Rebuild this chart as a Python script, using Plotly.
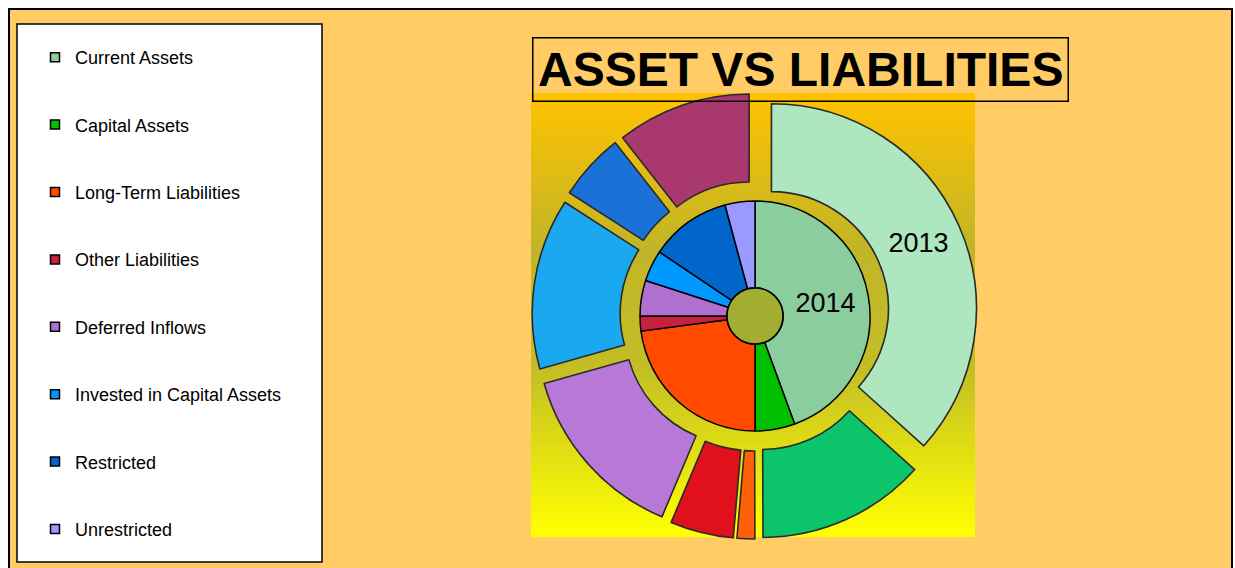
import numpy as np
import plotly.graph_objects as go

W, H = 1235, 568

# ---------------- data ----------------
categories = ["Current Assets", "Capital Assets", "Long-Term Liabilities", "Other Liabilities",
              "Deferred Inflows", "Invested in Capital Assets", "Restricted", "Unrestricted"]
values_2013 = [36.7, 13.3, 1.4, 5.0, 14.3, 13.5, 5.3, 10.6]
values_2014 = [44.4, 5.6, 22.9, 2.1, 5.0, 4.4, 11.4, 4.2]
series_names = ["2013", "2014"]

colors_2013 = ["#AEE6C0", "#0CC46A", "#FF600A", "#E0101C", "#B878D8", "#1AA8F0", "#1A72D8", "#A8386E"]
colors_2014 = ["#8CCD9E", "#00C000", "#FF4A00", "#C8203F", "#B070D0", "#0098FF", "#0066CC", "#9999FF"]

title_text = "ASSET VS LIABILITIES"


def px_x(x):
    """pixel x -> paper fraction"""
    return x / W


def px_y(y):
    """pixel y (from top) -> paper fraction"""
    return 1 - y / H


FONT = "Arial, Liberation Sans, sans-serif"

fig = go.Figure()

# ---------------- plot-area gradient (gold -> olive -> yellow) ----------------
n_grad = 80
t = np.linspace(0, 1, n_grad)
d = t[1] - t[0]
bg_scale = [[0.0, "#FFC200"], [0.35, "#C0B528"], [0.62, "#C3BE25"], [1.0, "#FFFF00"]]
fig.add_trace(go.Heatmap(
    x=[0, 1], y=t, z=[[v, v] for v in t],
    colorscale=bg_scale, zmin=0, zmax=1, zsmooth="best",
    showscale=False, hoverinfo="skip", xaxis="x", yaxis="y",
))

# ---------------- legend entries ----------------
for name, col in zip(categories, colors_2014):
    fig.add_trace(go.Scatter(
        x=[None], y=[None], mode="markers", name=name, legendgroup=name,
        marker=dict(symbol="square", size=9, color=col, line=dict(color="black", width=1.5)),
        xaxis="x", yaxis="y", hoverinfo="skip",
    ))

# ---------------- outer ring: 2013 ----------------
cx, cy = 755, 316
outer_half = 223
fig.add_trace(go.Pie(
    labels=categories, values=values_2013, name=series_names[0],
    sort=False, direction="clockwise", rotation=0,
    hole=0.571, pull=[0.0878] * len(categories),
    marker=dict(colors=colors_2013, line=dict(color="#2a2a2a", width=1.6)),
    text=[series_names[0]] + [""] * (len(categories) - 1),
    textinfo="text", textposition="inside", insidetextorientation="horizontal",
    textfont=dict(family=FONT, size=27, color="black"),
    domain=dict(x=[px_x(cx - outer_half), px_x(cx + outer_half)],
                y=[px_y(cy + outer_half), px_y(cy - outer_half)]),
    showlegend=False, hoverinfo="label+value+name",
))

# ---------------- inner pie: 2014 ----------------
inner_r = 115
fig.add_trace(go.Pie(
    labels=categories, values=values_2014, name=series_names[1],
    sort=False, direction="clockwise", rotation=0,
    hole=0.245,
    marker=dict(colors=colors_2014, line=dict(color="black", width=1.5)),
    text=[series_names[1]] + [""] * (len(categories) - 1),
    textinfo="text", textposition="inside", insidetextorientation="horizontal",
    textfont=dict(family=FONT, size=27, color="black"),
    domain=dict(x=[px_x(cx - inner_r), px_x(cx + inner_r)],
                y=[px_y(cy + inner_r), px_y(cy - inner_r)]),
    showlegend=False, hoverinfo="label+value+name",
))

shapes = [
    # chart background with border
    dict(type="rect", xref="paper", yref="paper", x0=px_x(9), x1=px_x(1232), y0=-0.1, y1=px_y(9),
         fillcolor="#FFCC66", line=dict(color="black", width=2), layer="below"),
    # legend box
    dict(type="rect", xref="paper", yref="paper", x0=px_x(17), x1=px_x(322), y0=px_y(562), y1=px_y(24),
         fillcolor="white", line=dict(color="black", width=1.5), layer="below"),
    # doughnut hole
    dict(type="circle", xref="paper", yref="paper", x0=px_x(cx - 28), x1=px_x(cx + 28),
         y0=px_y(cy + 28), y1=px_y(cy - 28),
         fillcolor="#A3AD31", line=dict(color="black", width=1.5), layer="above"),
]

fig.update_layout(
    width=W, height=H, autosize=False,
    margin=dict(l=0, r=0, t=0, b=0),
    paper_bgcolor="white", plot_bgcolor="rgba(0,0,0,0)",
    xaxis=dict(domain=[px_x(531), px_x(975)], range=[-0.5, 1.5], visible=False, fixedrange=True),
    yaxis=dict(domain=[px_y(537), px_y(93)], range=[1 + d / 2, -d / 2], visible=False, fixedrange=True),
    showlegend=True,
    legend=dict(x=px_x(35), y=px_y(39), xanchor="left", yanchor="top",
                bgcolor="rgba(0,0,0,0)", borderwidth=0,
                font=dict(family=FONT, size=18, color="black"),
                traceorder="grouped", tracegroupgap=41, itemclick=False, itemdoubleclick=False),
    shapes=shapes,
    annotations=[dict(
        text="<b>" + title_text + "</b>", xref="paper", yref="paper",
        x=px_x(800.5), y=px_y(70), xanchor="center", yanchor="middle", showarrow=False,
        font=dict(family=FONT, size=48, color="black"),
        bordercolor="black", borderwidth=1.5, borderpad=4.5,
    )],
)

fig.write_html("out.html",
               config={"displayModeBar": False},
               post_script="document.body.style.margin='0';document.body.style.overflow='hidden';")
